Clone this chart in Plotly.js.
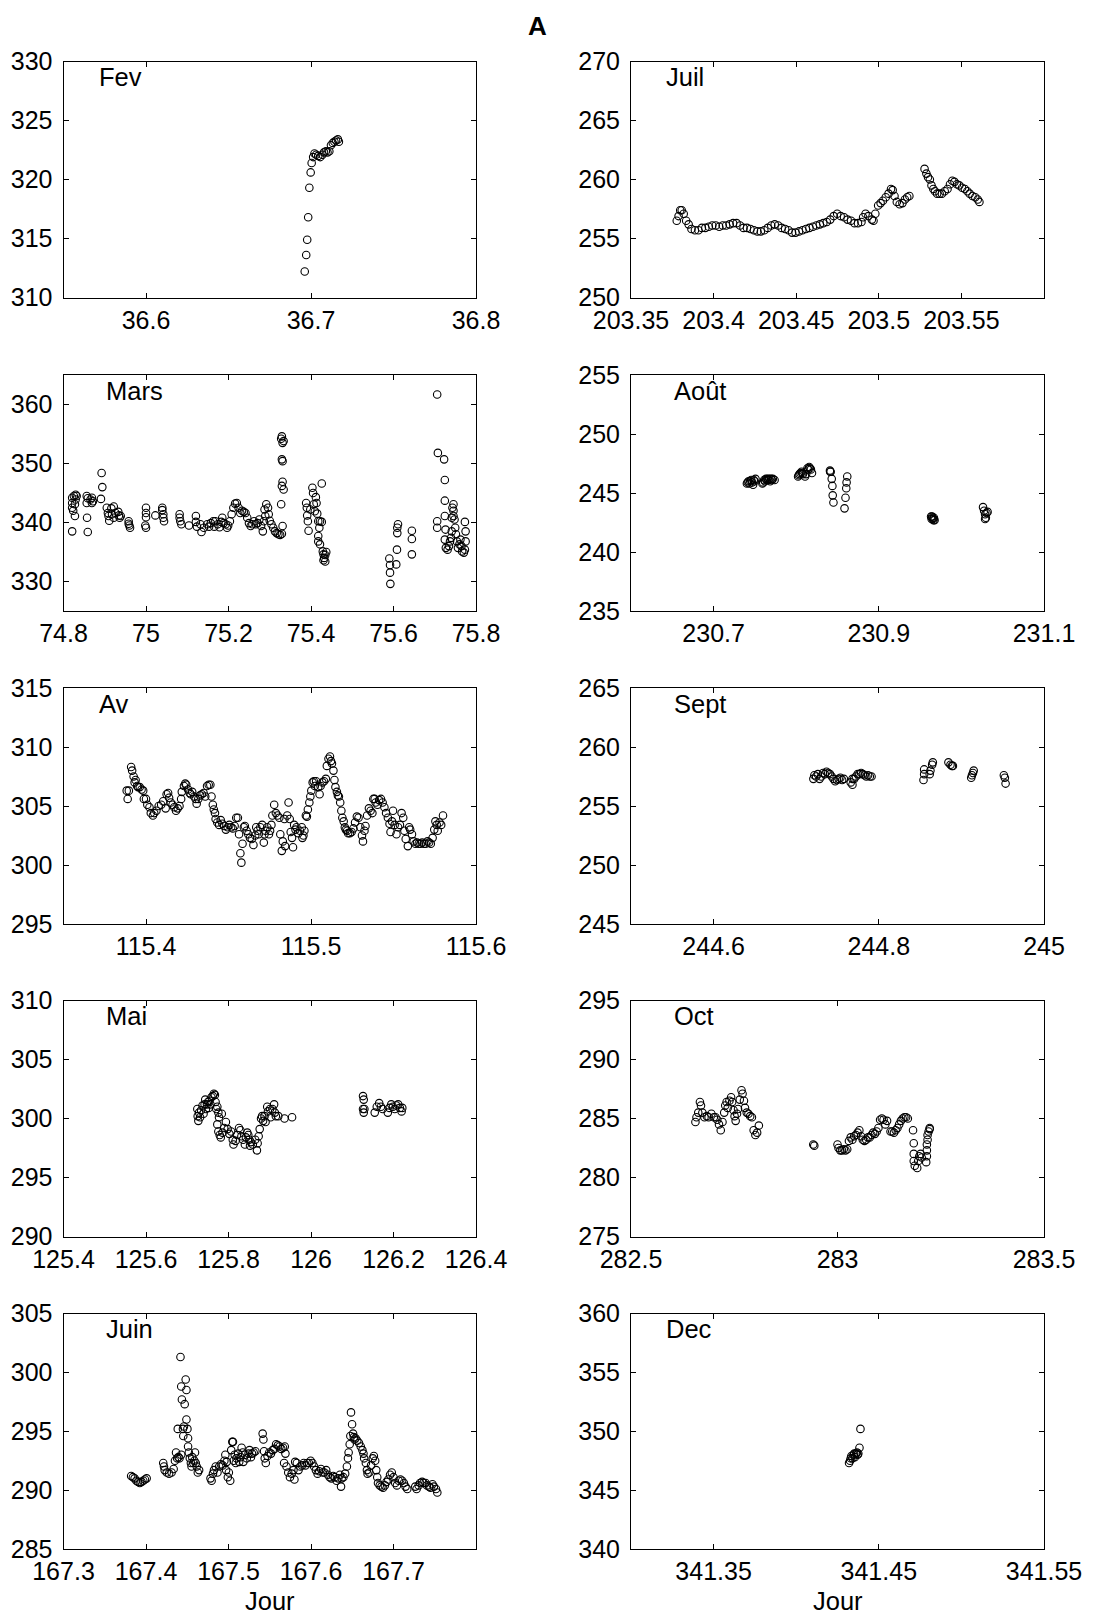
<!DOCTYPE html>
<html><head><meta charset="utf-8">
<script src="https://cdn.plot.ly/plotly-3.0.1.min.js"></script>
<style>html,body{margin:0;padding:0;background:#fff}#chart{width:1093px;height:1614px}</style>
</head><body><div id="chart"></div>
<script>
// ---------- data: [jour, valeur] ----------
const fevPts = [[36.6962,312.2],[36.6971,313.6],[36.6977,314.9],[36.6983,316.8],[36.6990,319.3],[36.6998,320.6],[36.7004,321.4],[36.7013,321.9],[36.7021,322.2],[36.7031,322.1],[36.7044,322.0],[36.7056,321.9],[36.7069,322.1],[36.7079,322.3],[36.7090,322.4],[36.7100,322.3],[36.7111,322.4],[36.7121,322.9],[36.7132,323.1],[36.7142,323.2],[36.7152,323.3],[36.7163,323.4],[36.7169,323.2]];

const juilDay = [203.3777,203.3788,203.3798,203.3807,203.3819,203.3834,203.3849,203.3866,
203.3887,203.3908,203.3929,203.3950,203.3971,203.3992,203.4013,203.4034,203.4055,203.4076,
203.4097,203.4118,203.4139,203.4160,203.4181,203.4202,203.4223,203.4244,203.4265,203.4286,
203.4307,203.4328,203.4349,203.4370,203.4391,203.4412,203.4433,203.4454,203.4475,203.4496,
203.4517,203.4538,203.4559,203.4580,203.4601,203.4622,203.4643,203.4664,203.4685,203.4706,
203.4727,203.4748,203.4769,203.4790,203.4811,203.4832,203.4853,203.4874,203.4895,
203.4905,203.4920,203.4937,203.4958,203.4968,203.4979,203.4996,203.5011,203.5025,203.5042,203.5059,203.5074,203.5084,203.5095,203.5109,203.5126,203.5143,203.5158,203.5172,203.5185,
203.5277,203.5288,203.5298,203.5309,203.5319,203.5330,203.5340,203.5353,203.5368,203.5382,203.5399,203.5416,203.5431,203.5445,203.5458,203.5473,203.5487,203.5504,203.5521,203.5536,203.5550,203.5567,203.5584,203.5599,203.5609];
const juilVal = [256.5,256.9,257.4,257.4,257.1,256.5,256.2,255.8,
255.7,255.7,255.9,255.9,256.0,256.1,256.1,256.0,256.1,256.1,
256.2,256.3,256.3,256.1,255.9,255.9,255.8,255.7,255.6,255.6,
255.7,255.9,256.1,256.2,256.1,255.9,255.8,255.7,255.5,255.5,
255.6,255.7,255.8,255.9,256.0,256.1,256.2,256.3,256.4,256.6,
256.9,257.1,256.9,256.8,256.6,256.5,256.3,256.3,256.4,
256.8,257.1,256.9,256.6,256.5,257.1,257.8,258.0,258.2,258.5,258.8,259.2,259.1,258.6,258.1,257.9,258.0,258.3,258.5,258.6,
260.9,260.5,260.2,260.0,259.5,259.2,259.0,258.8,258.8,258.8,259.0,259.2,259.6,259.9,259.8,259.6,259.5,259.3,259.2,259.0,258.8,258.6,258.5,258.3,258.1];

const marsPts = [[74.8210,343.3],[74.8210,344.2],[74.8252,344.5],[74.8294,344.7],[74.8319,344.5],[74.8210,342.5],[74.8235,342.0],[74.8277,341.1],[74.8277,343.1],[74.8210,338.5],[74.8294,343.9],
[74.8563,344.5],[74.8563,343.3],[74.8588,344.1],[74.8571,340.8],[74.8588,338.4],[74.8655,343.9],[74.8689,344.2],[74.8714,343.6],[74.8689,343.3],
[74.8924,348.4],[74.8941,346.0],[74.8908,344.0],
[74.9050,342.5],[74.9076,341.6],[74.9092,341.1],[74.9109,340.3],[74.9160,342.4],[74.9176,341.4],[74.9218,342.7],[74.9218,340.8],[74.9261,341.6],[74.9328,341.8],[74.9345,341.2],[74.9387,341.1],[74.9361,340.8],
[74.9580,340.2],[74.9597,339.5],[74.9613,339.1],[74.9580,339.8],
[75.0000,342.5],[75.0000,341.6],[75.0000,340.9],[74.9983,339.5],[75.0000,339.1],[75.0227,341.2],
[75.0395,342.5],[75.0395,342.1],[75.0420,341.4],[75.0420,340.8],[75.0437,340.2],
[75.0815,341.4],[75.0815,340.8],[75.0832,340.2],[75.0857,339.7],[75.1042,339.5],
[75.1210,341.1],[75.1210,340.1],[75.1235,339.3],[75.1319,339.7],[75.1345,338.4],[75.1403,339.1],[75.1487,339.7],[75.1529,339.3],[75.1571,339.9],[75.1630,340.2],[75.1655,339.3],[75.1681,340.2],[75.1739,339.7],[75.1782,339.2],[75.1824,340.1],[75.1849,340.8],[75.1882,339.9],[75.1933,339.7],[75.1966,339.1],[75.1992,339.5],[75.2034,340.2],
[75.2076,341.4],[75.2118,342.5],[75.2160,343.2],[75.2202,343.3],[75.2244,342.5],[75.2286,341.6],[75.2328,342.0],[75.2370,341.8],[75.2412,341.6],[75.2454,340.8],[75.2496,339.9],[75.2538,339.4],[75.2580,339.7],[75.2622,340.2],[75.2664,339.7],[75.2706,339.9],[75.2748,340.5],[75.2790,339.4],[75.2832,338.5],[75.2857,340.2],[75.2874,342.2],[75.2916,343.1],[75.2958,342.5],[75.2975,341.4],[75.2891,341.1],[75.3000,340.3],[75.3042,339.7],[75.3084,339.1],[75.3126,338.5],[75.3168,338.2],[75.3210,338.0],[75.3252,337.9],[75.3294,338.1],[75.3311,339.4],[75.3277,343.1],[75.3294,346.2],[75.3311,346.9],[75.3336,345.6],[75.3294,350.7],[75.3311,350.4],[75.3277,354.2],[75.3294,354.6],[75.3311,353.5],[75.3336,353.8],
[75.3882,343.3],[75.3899,342.5],[75.3908,341.2],[75.3924,340.2],[75.3941,338.6],[75.3983,342.2],[75.4034,345.9],[75.4050,345.0],[75.4067,343.1],[75.4092,341.9],[75.4118,344.3],[75.4134,343.3],[75.4151,341.5],[75.4176,340.2],[75.4202,339.1],[75.4218,340.2],[75.4261,340.1],[75.4176,337.7],[75.4176,336.8],[75.4218,336.3],[75.4286,335.1],[75.4303,334.6],[75.4319,334.0],[75.4345,333.4],[75.4303,333.6],[75.4370,335.0],[75.4261,346.6],[75.4345,334.5],
[75.5899,333.9],[75.5916,332.8],[75.5916,331.5],[75.5924,329.6],[75.6067,332.9],[75.6084,335.4],[75.6092,339.1],[75.6109,339.7],[75.6092,338.2],
[75.6445,338.6],[75.6445,337.2],[75.6445,334.6],
[75.7059,361.7],[75.7076,351.8],[75.7227,350.7],[75.7244,347.2],[75.7244,343.7],[75.7244,341.1],[75.7261,338.8],[75.7059,340.2],[75.7059,339.1],[75.7244,337.1],[75.7269,335.7],[75.7311,335.4],[75.7345,336.0],[75.7370,336.8],[75.7395,337.4],[75.7412,338.5],[75.7429,342.5],[75.7454,342.0],[75.7454,341.1],[75.7479,340.5],[75.7496,339.1],[75.7513,338.0],[75.7538,336.8],[75.7563,335.7],[75.7597,336.3],[75.7622,337.1],[75.7647,336.0],[75.7664,335.1],[75.7706,334.9],[75.7731,335.4],[75.7748,336.8],[75.7748,338.5],[75.7731,340.1],[75.7412,340.8],[75.7454,343.1]];

const aoutPts = [[230.7403,245.8],[230.7413,245.9],[230.7423,246.0],[230.7434,245.8],[230.7444,246.0],[230.7455,246.1],[230.7465,245.9],[230.7478,245.7],[230.7486,246.1],[230.7496,246.0],[230.7507,246.2],
[230.7591,245.8],[230.7600,245.9],[230.7612,246.1],[230.7622,246.0],[230.7633,246.2],[230.7643,246.1],[230.7654,246.2],[230.7664,246.1],[230.7675,246.2],[230.7685,246.0],[230.7696,246.2],[230.7706,246.1],[230.7717,246.2],[230.7738,246.1],
[230.8023,246.4],[230.8031,246.5],[230.8040,246.6],[230.8052,246.7],[230.8065,246.8],[230.8074,246.7],[230.8082,246.6],[230.8107,246.4],[230.8120,246.6],[230.8136,247.1],[230.8145,247.0],[230.8157,247.2],[230.8166,247.1],[230.8178,247.0],[230.8191,246.7],
[230.8409,246.9],[230.8411,246.8],[230.8417,246.8],[230.8430,246.2],[230.8438,245.6],[230.8442,244.8],[230.8451,244.2],
[230.8618,246.4],[230.8610,245.9],[230.8606,245.4],[230.8597,244.6],[230.8585,243.7],
[230.9633,243.0],[230.9640,242.8],[230.9646,243.0],[230.9652,242.9],[230.9658,242.8],[230.9662,242.7],[230.9667,242.9],[230.9675,242.7],
[231.0262,243.8],[231.0275,243.5],[231.0287,243.2],[231.0296,242.9],[231.0304,243.3],[231.0317,243.4],[231.0287,242.8]];

const avPts = [[115.3883,306.3],[115.3889,305.6],[115.3896,306.3],[115.3910,308.3],[115.3916,308.0],[115.3925,307.5],[115.3931,307.0],[115.3937,307.2],[115.3946,306.7],[115.3952,306.6],[115.3962,306.6],[115.3973,306.4],[115.3983,306.3],[115.3987,305.6],[115.4000,305.6],[115.4008,305.1],[115.4021,304.9],[115.4029,304.4],[115.4042,304.2],[115.4050,304.4],[115.4063,304.6],[115.4077,305.0],[115.4092,305.1],[115.4104,305.4],[115.4119,304.8],[115.4125,306.0],[115.4134,306.1],[115.4140,305.7],[115.4150,305.3],[115.4161,305.1],[115.4171,304.9],[115.4182,304.6],[115.4192,304.8],[115.4203,305.0],[115.4213,305.6],[115.4217,306.2],[115.4230,306.7],[115.4238,306.9],[115.4244,306.8],[115.4255,306.4],[115.4265,306.1],[115.4271,306.0],[115.4280,306.2],[115.4292,305.8],[115.4301,305.6],[115.4307,305.2],[115.4317,305.6],[115.4328,305.9],[115.4338,306.0],[115.4349,306.1],[115.4359,305.8],[115.4370,306.7],[115.4380,306.8],[115.4390,306.8],[115.4397,305.8],[115.4405,305.1],[115.4411,304.7],[115.4418,304.4],[115.4422,303.9],[115.4432,303.6],[115.4443,303.4],[115.4453,303.8],[115.4463,303.5],[115.4474,303.3],[115.4484,303.0],[115.4495,303.2],[115.4505,303.4],[115.4516,303.2],[115.4526,303.1],[115.4537,303.3],[115.4547,304.0],[115.4557,304.0],[115.4564,302.6],[115.4572,301.0],[115.4578,300.2],[115.4585,301.8],[115.4593,303.2],[115.4599,303.3],[115.4610,302.9],[115.4620,302.6],[115.4630,302.3],[115.4641,302.2],[115.4651,301.7],[115.4662,302.5],[115.4668,303.2],[115.4676,302.9],[115.4683,302.6],[115.4693,303.2],[115.4704,303.4],[115.4714,301.9],[115.4718,302.6],[115.4724,302.9],[115.4735,303.2],[115.4745,302.6],[115.4752,302.9],[115.4760,303.4],[115.4766,304.2],[115.4777,305.1],[115.4787,304.4],[115.4797,304.2],[115.4808,304.0],[115.4814,302.6],[115.4823,301.2],[115.4829,302.0],[115.4839,303.9],[115.4843,301.6],[115.4856,304.2],[115.4864,305.3],[115.4871,303.9],[115.4877,302.8],[115.4885,302.3],[115.4891,301.5],[115.4898,303.4],[115.4906,303.0],[115.4912,303.2],[115.4923,302.7],[115.4933,302.9],[115.4944,303.2],[115.4948,302.3],[115.4954,302.5],[115.4960,302.9],[115.4969,304.2],[115.4975,304.1],[115.4981,304.7],[115.4990,305.3],[115.4996,305.8],[115.5002,306.3],[115.5010,307.0],[115.5017,307.1],[115.5023,306.7],[115.5031,307.1],[115.5044,306.6],[115.5052,306.0],[115.5058,306.7],[115.5069,307.0],[115.5079,307.1],[115.5090,307.3],[115.5096,308.4],[115.5106,309.0],[115.5115,309.2],[115.5121,308.8],[115.5127,308.6],[115.5136,308.0],[115.5142,307.2],[115.5148,306.6],[115.5157,306.2],[115.5163,305.9],[115.5169,305.8],[115.5177,305.3],[115.5184,304.6],[115.5190,304.0],[115.5198,303.7],[115.5205,303.2],[115.5211,303.0],[115.5219,302.9],[115.5225,302.7],[115.5236,302.7],[115.5246,302.8],[115.5257,303.1],[115.5267,303.6],[115.5278,304.1],[115.5288,304.0],[115.5299,303.2],[115.5309,302.5],[115.5315,302.0],[115.5324,302.9],[115.5330,303.3],[115.5340,304.2],[115.5351,304.8],[115.5361,304.6],[115.5372,304.4],[115.5378,305.6],[115.5386,305.6],[115.5392,305.3],[115.5403,305.1],[115.5413,305.5],[115.5424,305.6],[115.5434,305.3],[115.5445,304.9],[115.5455,304.4],[115.5466,304.0],[115.5476,303.5],[115.5482,302.8],[115.5491,303.7],[115.5497,304.6],[115.5507,303.4],[115.5518,302.6],[115.5528,303.2],[115.5539,303.4],[115.5549,304.4],[115.5559,304.0],[115.5566,302.9],[115.5574,302.2],[115.5587,301.6],[115.5595,303.2],[115.5601,303.0],[115.5612,302.6],[115.5622,302.0],[115.5633,301.8],[115.5643,301.9],[115.5653,301.8],[115.5664,301.8],[115.5674,301.9],[115.5685,301.8],[115.5695,301.8],[115.5706,302.0],[115.5716,301.9],[115.5726,301.8],[115.5737,302.3],[115.5747,303.0],[115.5754,303.7],[115.5762,303.4],[115.5768,302.9],[115.5779,303.6],[115.5789,303.4],[115.5800,304.2]];

const septPts = [[244.7208,257.3],[244.7220,257.6],[244.7241,257.5],[244.7262,257.7],[244.7283,257.3],[244.7304,257.5],[244.7325,257.8],[244.7346,257.7],[244.7367,257.9],[244.7388,257.8],[244.7409,257.7],[244.7430,257.5],[244.7451,257.3],[244.7472,257.1],[244.7493,257.2],[244.7514,257.3],[244.7535,257.4],[244.7556,257.2],[244.7577,257.3],
[244.7660,257.0],[244.7681,257.3],[244.7681,256.8],[244.7702,257.3],[244.7723,257.5],[244.7744,257.7],[244.7765,257.7],[244.7786,257.8],[244.7807,257.7],[244.7828,257.6],[244.7849,257.5],[244.7870,257.6],[244.7891,257.5],[244.7912,257.5],
[244.8541,257.2],[244.8549,257.7],[244.8549,258.1],[244.8616,257.7],[244.8625,258.0],[244.8646,258.5],[244.8654,258.7],
[244.8843,258.7],[244.8868,258.5],[244.8885,258.4],[244.8897,258.4],
[244.9119,257.4],[244.9128,257.6],[244.9140,257.8],[244.9149,258.0],
[244.9514,257.6],[244.9526,257.4],[244.9535,256.9]];

const maiPts = [[125.7244,300.8],[125.7253,300.2],[125.7269,299.8],[125.7286,300.5],[125.7311,300.1],[125.7336,300.7],[125.7370,301.1],[125.7395,300.4],[125.7420,301.2],[125.7436,301.6],[125.7453,300.8],[125.7478,301.2],[125.7503,301.4],[125.7520,300.9],[125.7537,301.5],[125.7562,301.2],[125.7587,301.8],[125.7620,301.9],[125.7645,302.1],[125.7670,302.0],[125.7687,301.4],[125.7704,300.8],[125.7729,301.0],[125.7754,300.5],[125.7770,300.1],[125.7837,300.4],
[125.7729,299.5],[125.7754,298.9],[125.7787,298.6],[125.7812,298.4],[125.7854,298.8],[125.7896,299.2],[125.7937,299.7],[125.7979,299.1],[125.8021,298.7],[125.8063,298.9],[125.8104,298.2],[125.8121,297.8],[125.8171,298.1],[125.8205,298.6],[125.8255,299.2],[125.8288,299.0],[125.8313,298.5],[125.8355,298.2],[125.8397,297.8],[125.8422,298.4],[125.8455,298.8],[125.8480,298.6],[125.8505,298.2],[125.8522,297.7],[125.8539,298.0],[125.8589,297.8],[125.8647,298.2],[125.8689,297.3],[125.8706,297.9],[125.8731,298.5],[125.8756,299.1],[125.8789,300.0],[125.8814,300.2],[125.8839,299.8],[125.8873,300.2],[125.8898,299.7],[125.8939,301.0],[125.8956,300.6],[125.9006,300.8],[125.9023,300.1],[125.9065,300.8],[125.9106,301.2],[125.9123,300.5],[125.9148,300.2],[125.9207,300.2],[125.9357,300.0],[125.9541,300.1],
[126.1261,301.9],[126.1278,301.6],[126.1294,300.8],[126.1278,300.5],[126.1261,300.8],[126.1545,300.5],[126.1595,301.0],[126.1653,301.3],[126.1695,301.0],[126.1737,300.8],[126.1862,300.5],[126.1904,300.9],[126.1946,301.2],[126.1987,301.0],[126.2029,300.8],[126.2071,301.1],[126.2113,301.2],[126.2154,300.9],[126.2196,300.6],[126.2213,300.9]];

const octPts = [[282.6560,284.7],[282.6586,285.1],[282.6628,285.5],[282.6669,286.4],[282.6695,286.1],[282.6728,285.5],[282.6779,285.1],[282.6837,285.2],[282.6879,285.1],[282.6946,285.4],[282.7005,285.1],[282.7047,285.1],[282.7089,284.9],[282.7131,284.5],[282.7173,284.0],[282.7215,284.7],[282.7257,285.5],[282.7282,286.1],[282.7315,286.4],[282.7341,285.9],[282.7383,286.5],[282.7424,286.8],[282.7450,286.4],[282.7483,285.7],[282.7508,285.2],[282.7534,284.8],[282.7567,285.4],[282.7592,285.8],[282.7634,286.6],[282.7676,287.4],[282.7701,287.1],[282.7735,286.5],[282.7760,285.9],[282.7802,285.5],[282.7844,285.4],[282.7886,285.2],[282.7928,285.1],[282.7970,284.0],[282.8012,283.6],[282.8054,283.8],[282.8096,284.4],
[282.9413,282.8],[282.9438,282.7],
[283.0000,282.8],[283.0025,282.5],[283.0067,282.3],[283.0109,282.3],[283.0151,282.4],[283.0193,282.3],[283.0235,282.4],[283.0277,283.1],[283.0319,283.4],[283.0361,283.2],[283.0403,283.5],[283.0445,283.6],[283.0487,283.8],[283.0529,284.0],[283.0570,283.5],[283.0612,283.2],[283.0654,283.1],[283.0696,283.2],[283.0738,283.4],[283.0780,283.4],[283.0822,283.6],[283.0864,283.8],[283.0906,283.7],[283.0948,283.9],[283.0990,284.2],[283.1032,284.9],[283.1074,285.0],[283.1116,284.9],[283.1158,284.5],[283.1200,284.8],[283.1284,283.9],[283.1326,283.9],[283.1367,283.8],[283.1409,284.0],[283.1451,284.2],[283.1493,284.5],[283.1535,284.8],[283.1577,285.0],[283.1619,285.1],[283.1661,285.1],[283.1703,285.0],
[283.1829,284.0],[283.1846,282.9],[283.1846,282.0],[283.1846,281.4],[283.1871,281.0],[283.1930,280.8],[283.1955,281.4],[283.1980,281.8],[283.2013,282.0],[283.2039,281.7],[283.2148,281.3],[283.2164,281.8],[283.2164,282.3],[283.2164,282.8],[283.2181,283.2],[283.2181,283.6],[283.2206,283.9],[283.2232,284.2],[283.2232,284.1]];

const juinPts = [[167.3820,291.2],[167.3841,291.1],[167.3862,291.0],[167.3883,290.8],[167.3904,290.7],[167.3925,290.6],[167.3946,290.7],[167.3967,290.8],[167.3987,290.9],[167.4008,291.0],
[167.4209,292.3],[167.4218,292.0],[167.4226,291.7],[167.4251,291.5],[167.4280,291.4],[167.4310,291.5],[167.4335,291.8],[167.4351,292.5],[167.4364,293.2],[167.4377,292.7],[167.4385,295.2],[167.4393,292.8],[167.4406,292.7],[167.4418,301.3],[167.4427,298.8],[167.4427,293.0],[167.4435,297.7],[167.4448,295.2],[167.4452,294.6],[167.4460,295.4],[167.4469,297.3],[167.4481,299.4],[167.4490,298.5],[167.4490,296.0],[167.4502,295.2],[167.4510,294.4],[167.4510,293.7],[167.4519,293.2],[167.4531,292.7],[167.4544,292.3],[167.4552,292.0],[167.4561,292.8],[167.4573,292.3],[167.4586,292.5],[167.4594,293.2],[167.4603,292.3],[167.4615,292.0],[167.4628,291.5],[167.4644,291.7],
[167.4782,291.0],[167.4795,290.8],[167.4812,291.4],[167.4824,291.7],[167.4845,292.0],[167.4866,291.5],[167.4887,292.0],[167.4908,292.2],[167.4929,292.1],[167.4950,292.5],[167.4962,293.0],[167.4971,291.7],[167.4979,292.4],[167.4992,291.1],[167.5004,291.5],[167.5021,290.8],[167.5033,293.4],[167.5046,294.1],[167.5054,294.1],[167.5063,292.5],[167.5075,293.0],[167.5088,292.3],[167.5096,292.7],[167.5117,293.1],[167.5130,292.4],[167.5146,292.8],[167.5159,293.6],[167.5172,293.2],[167.5180,292.4],[167.5201,293.0],[167.5222,292.7],[167.5243,293.1],[167.5255,293.4],[167.5272,292.8],[167.5285,293.1],[167.5305,293.2],[167.5326,293.3],
[167.5414,294.8],[167.5423,294.3],[167.5431,293.3],[167.5439,292.7],[167.5452,292.3],[167.5473,292.9],[167.5494,293.2],[167.5515,293.1],[167.5536,293.4],[167.5556,293.5],[167.5577,293.9],[167.5598,293.8],[167.5619,293.7],[167.5640,293.5],[167.5661,293.6],[167.5682,293.7],[167.5690,293.1],[167.5674,292.3],
[167.5703,292.0],[167.5724,291.5],[167.5745,291.1],[167.5766,291.4],[167.5787,291.7],[167.5799,290.9],[167.5808,292.4],[167.5828,292.3],[167.5849,291.7],[167.5870,292.0],[167.5891,292.1],[167.5912,292.3],[167.5933,292.1],[167.5954,292.3],[167.5975,292.3],[167.5996,292.5],[167.6017,292.3],[167.6038,292.0],[167.6059,291.7],[167.6080,291.4],[167.6100,291.6],[167.6121,291.8],[167.6142,291.5],[167.6163,291.5],[167.6184,291.7],[167.6205,291.3],[167.6226,291.1],[167.6247,291.0],[167.6268,291.2],[167.6289,291.1],[167.6310,290.8],[167.6331,291.0],[167.6351,291.3],[167.6364,290.3],[167.6372,291.0],[167.6393,291.1],[167.6414,291.4],[167.6435,292.0],[167.6448,292.7],[167.6456,293.2],[167.6469,293.9],[167.6477,294.6],[167.6485,296.6],[167.6498,295.6],[167.6510,294.8],[167.6519,294.5],[167.6527,294.3],[167.6540,294.4],[167.6561,294.2],[167.6582,294.0],[167.6603,293.7],[167.6623,293.4],[167.6636,293.1],[167.6644,292.7],[167.6665,292.3],[167.6678,291.7],[167.6686,291.4],[167.6707,291.5],[167.6728,292.1],[167.6749,292.7],[167.6762,292.9],[167.6778,292.5],[167.6791,291.7],[167.6803,291.1],[167.6812,290.6],[167.6833,290.4],[167.6854,290.3],[167.6874,290.2],[167.6895,290.4],[167.6916,290.7],[167.6937,290.9],[167.6958,291.3],[167.6979,291.5],[167.7000,291.1],[167.7021,290.6],[167.7042,290.4],[167.7063,290.8],[167.7084,290.9],[167.7105,290.8],[167.7126,290.6],[167.7146,290.3],[167.7167,290.1],
[167.7264,290.3],[167.7280,290.1],[167.7305,290.4],[167.7322,290.6],[167.7347,290.7],[167.7364,290.6],[167.7389,290.6],[167.7406,290.4],[167.7431,290.3],[167.7448,290.2],[167.7473,290.5],[167.7490,290.3],[167.7515,290.1],[167.7531,289.8]];

const decPts = [[341.4320,347.3],[341.4326,347.5],[341.4330,347.7],[341.4334,347.9],[341.4341,347.7],[341.4347,348.0],[341.4351,348.1],[341.4355,347.8],[341.4362,348.1],[341.4368,348.2],[341.4372,348.0],[341.4376,348.1],[341.4383,348.6],[341.4389,350.2]];

// ---------- tick labels ----------
const fevTicks = [36.6,36.7,36.8], fevTickText = ['36.6','36.7','36.8'];
const juilTicks = [203.35,203.4,203.45,203.5,203.55], juilTickText = ['203.35','203.4','203.45','203.5','203.55'];
const marsTicks = [74.8,75,75.2,75.4,75.6,75.8], marsTickText = ['74.8','75','75.2','75.4','75.6','75.8'];
const aoutTicks = [230.7,230.9,231.1], aoutTickText = ['230.7','230.9','231.1'];
const avTicks = [115.4,115.5,115.6], avTickText = ['115.4','115.5','115.6'];
const septTicks = [244.6,244.8,245], septTickText = ['244.6','244.8','245'];
const maiTicks = [125.4,125.6,125.8,126,126.2,126.4], maiTickText = ['125.4','125.6','125.8','126','126.2','126.4'];
const octTicks = [282.5,283,283.5], octTickText = ['282.5','283','283.5'];
const juinTicks = [167.3,167.4,167.5,167.6,167.7], juinTickText = ['167.3','167.4','167.5','167.6','167.7'];
const decTicks = [341.35,341.45,341.55], decTickText = ['341.35','341.45','341.55'];

const fevY = [310,315,320,325,330], juilY = [250,255,260,265,270], marsY = [330,340,350,360],
      aoutY = [235,240,245,250,255], avY = [295,300,305,310,315], septY = [245,250,255,260,265],
      maiY = [290,295,300,305,310], octY = [275,280,285,290,295], juinY = [285,290,295,300,305],
      decY = [340,345,350,355,360];

const FONT = 'Liberation Sans, Arial, Helvetica, sans-serif';
const panels = [
 {lab:'Fev',  x:fevPts.map(p=>p[0]),  y:fevPts.map(p=>p[1]),  xr:[36.55,36.8],   xt:fevTicks,  xs:fevTickText,  yr:[310,330], yt:fevY,  col:0,row:0,lx:0.0805},
 {lab:'Juil', x:juilDay, y:juilVal, xr:[203.35,203.6], xt:juilTicks, xs:juilTickText, yr:[250,270], yt:juilY, col:1,row:0,lx:0.080},
 {lab:'Mars', x:marsPts.map(p=>p[0]), y:marsPts.map(p=>p[1]), xr:[74.8,75.8],    xt:marsTicks, xs:marsTickText, yr:[325,365], yt:marsY, col:0,row:1,lx:0.099},
 {lab:'Août', x:aoutPts.map(p=>p[0]), y:aoutPts.map(p=>p[1]), xr:[230.6,231.1],  xt:aoutTicks, xs:aoutTickText, yr:[235,255], yt:aoutY, col:1,row:1,lx:0.099},
 {lab:'Av',   x:avPts.map(p=>p[0]),   y:avPts.map(p=>p[1]),   xr:[115.35,115.6], xt:avTicks,   xs:avTickText,   yr:[295,315], yt:avY,   col:0,row:2,lx:0.0805},
 {lab:'Sept', x:septPts.map(p=>p[0]), y:septPts.map(p=>p[1]), xr:[244.5,245],    xt:septTicks, xs:septTickText, yr:[245,265], yt:septY, col:1,row:2,lx:0.099},
 {lab:'Mai',  x:maiPts.map(p=>p[0]),  y:maiPts.map(p=>p[1]),  xr:[125.4,126.4],  xt:maiTicks,  xs:maiTickText,  yr:[290,310], yt:maiY,  col:0,row:3,lx:0.099},
 {lab:'Oct',  x:octPts.map(p=>p[0]),  y:octPts.map(p=>p[1]),  xr:[282.5,283.5],  xt:octTicks,  xs:octTickText,  yr:[275,295], yt:octY,  col:1,row:3,lx:0.099},
 {lab:'Juin', x:juinPts.map(p=>p[0]), y:juinPts.map(p=>p[1]), xr:[167.3,167.8],  xt:juinTicks, xs:juinTickText, yr:[285,305], yt:juinY, col:0,row:4,lx:0.099},
 {lab:'Dec',  x:decPts.map(p=>p[0]),  y:decPts.map(p=>p[1]),  xr:[341.3,341.55], xt:decTicks,  xs:decTickText,  yr:[340,360], yt:decY,  col:1,row:4,lx:0.080}
];

const W = 1093, H = 1614;
const colPx = [[63.5,476],[631,1044]];
const rowPx = [[61.5,297.5],[375,611],[688,924],[1000.5,1236.5],[1313.5,1549]];

const axisBase = {showline:true, mirror:'ticks', linecolor:'#000', linewidth:1, ticks:'inside', ticklen:5, tickwidth:1, tickcolor:'#000', showgrid:false, zeroline:false, fixedrange:true, tickfont:{family:FONT, size:25, color:'#000'}};

const layout = {width:W, height:H, margin:{l:0,r:0,t:0,b:0}, showlegend:false, paper_bgcolor:'#fff', plot_bgcolor:'#fff', annotations:[]};
const traces = [];
panels.forEach((p,i)=>{
  const n = i===0 ? '' : String(i+1);
  const xa = 'x'+n, ya = 'y'+n;
  traces.push({type:'scatter', mode:'markers', x:p.x, y:p.y, xaxis:xa, yaxis:ya,
    marker:{symbol:'circle-open', size:7.5, color:'#000', line:{width:1.1, color:'#000'}}, hoverinfo:'skip'});
  const cp = colPx[p.col], rp = rowPx[p.row];
  layout['xaxis'+n] = Object.assign({}, axisBase, {domain:[cp[0]/W, cp[1]/W], range:p.xr, anchor:ya, tickmode:'array', tickvals:p.xt, ticktext:p.xs});
  layout['yaxis'+n] = Object.assign({}, axisBase, {domain:[1-rp[1]/H, 1-rp[0]/H], range:p.yr, anchor:xa, tickmode:'array', tickvals:p.yt, ticktext:p.yt.map(String), ticklabelstandoff:5});
  layout.annotations.push({text:p.lab, xref:xa+' domain', yref:ya+' domain', x:p.lx, y:0.934, xanchor:'left', yanchor:'middle', showarrow:false, font:{family:FONT, size:25.5, color:'#000'}});
});
layout.annotations.push({text:'<b>A</b>', xref:'paper', yref:'paper', x:537.5/W, y:1-25.5/H, xanchor:'center', yanchor:'middle', showarrow:false, font:{family:FONT, size:26, color:'#000'}});
layout.annotations.push({text:'Jour', xref:'x9 domain', yref:'paper', x:0.5, y:1-1601/H, xanchor:'center', yanchor:'middle', showarrow:false, font:{family:FONT, size:25.5, color:'#000'}});
layout.annotations.push({text:'Jour', xref:'x10 domain', yref:'paper', x:0.5, y:1-1601/H, xanchor:'center', yanchor:'middle', showarrow:false, font:{family:FONT, size:25.5, color:'#000'}});

Plotly.newPlot('chart', traces, layout, {staticPlot:true, displayModeBar:false});
</script>
</body></html>
